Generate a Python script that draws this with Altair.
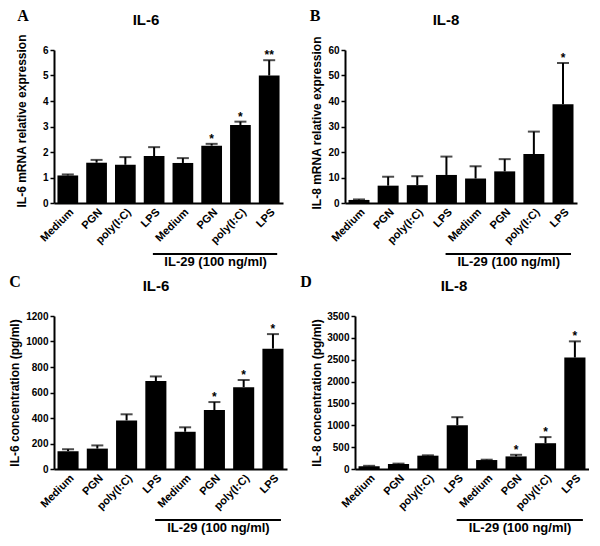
import altair as alt
import pandas as pd

categories = ["Medium", "PGN", "poly(I:C)", "LPS", "Medium", "PGN", "poly(I:C)", "LPS"]

# Panel A: IL-6 mRNA relative expression
a_mean = [1.08, 1.58, 1.50, 1.84, 1.57, 2.25, 3.06, 5.00]
a_err = [0.04, 0.11, 0.30, 0.35, 0.19, 0.07, 0.13, 0.60]
a_star = ["", "", "", "", "", "*", "*", "**"]

# Panel B: IL-8 mRNA relative expression
b_mean = [1.2, 6.8, 7.0, 11.0, 9.6, 12.4, 19.2, 38.7]
b_err = [0.2, 3.5, 3.5, 7.2, 4.8, 4.8, 8.8, 16.2]
b_star = ["", "", "", "", "", "", "", "*"]

# Panel C: IL-6 concentration (pg/ml)
c_mean = [140, 160, 381, 690, 292, 462, 642, 944]
c_err = [15, 25, 48, 36, 35, 63, 56, 114]
c_star = ["", "", "", "", "", "*", "*", "*"]

# Panel D: IL-8 concentration (pg/ml)
d_mean = [65, 115, 305, 1000, 205, 288, 590, 2550]
d_err = [8, 8, 8, 185, 8, 37, 140, 370]
d_star = ["", "", "", "", "", "*", "*", "*"]

SANS = "Liberation Sans, Arial, sans-serif"
SERIF = "Liberation Serif, Times New Roman, serif"
H = 153


def panel(means, errs, stars, ymax, ystep, ytitle, title, letter,
          width, title_x, title_dy, title_cx, letter_x):
    df = pd.DataFrame({
        "i": list(range(len(categories))),
        "m": means,
        "hi": [m + e for m, e in zip(means, errs)],
        "s": stars,
    })
    label_expr = "[" + ",".join("'%s'" % c for c in categories) + "][datum.value]"
    xscale = alt.Scale(paddingInner=0.28, paddingOuter=0.12)
    xaxis = alt.Axis(title=None, labelExpr=label_expr, labelAngle=315, ticks=False,
                     domainWidth=2, domainColor="black", labelFont=SANS, labelFontSize=11,
                     labelFontWeight="bold", labelColor="black", labelPadding=3)
    yscale = alt.Scale(domain=[0, ymax], nice=False, zero=True)
    yaxis = alt.Axis(values=list(range(0, ymax + 1, ystep)), format="d", title=ytitle, grid=False,
                     titleX=title_x, titleY=H / 2 + title_dy, titleAngle=270,
                     titleAlign="center", titleBaseline="middle",
                     titleFont=SANS, titleFontSize=12, titleFontWeight="bold", titleColor="black",
                     labelFont=SANS, labelFontSize=10, labelFontWeight="bold", labelColor="black",
                     labelPadding=2, tickSize=4, tickWidth=1.5, tickColor="black",
                     domainWidth=2, domainColor="black")
    X = alt.X("i:O", scale=xscale, axis=xaxis)
    base = alt.Chart(df)
    bars = base.mark_bar(color="black").encode(
        x=X, y=alt.Y("m:Q", scale=yscale, axis=yaxis))
    stem = base.mark_rule(color="black", strokeWidth=2).encode(
        x=X, y=alt.Y("m:Q", scale=yscale, axis=yaxis), y2="hi:Q")
    cap = base.mark_tick(color="black", thickness=2, size=12).encode(
        x=X, y=alt.Y("hi:Q", scale=yscale, axis=yaxis))
    star = base.mark_text(font=SANS, fontSize=12, fontWeight="bold", color="black",
                          baseline="alphabetic", dy=-1).encode(
        x=X, y=alt.Y("hi:Q", scale=yscale, axis=yaxis), text="s:N")
    one = alt.Chart(pd.DataFrame({"k": [0]}))
    line = one.mark_rule(color="black", strokeWidth=2, xOffset=-30, x2Offset=8).encode(
        x=alt.XDatum(4, type="ordinal"), x2=alt.X2Datum(7), y=alt.value(H + 51))
    grp = one.mark_text(text="IL-29 (100 ng/ml)", font=SANS, fontSize=13, fontWeight="bold",
                        color="black", baseline="top", align="center", dx=4).encode(
        x=alt.XDatum(5, type="ordinal"), y=alt.value(H + 53))
    ttl = one.mark_text(text=title, font=SANS, fontSize=15, fontWeight="bold", color="black",
                        baseline="middle", align="center").encode(
        x=alt.value(title_cx), y=alt.value(-30))
    let = one.mark_text(text=letter, font=SERIF, fontSize=16, fontWeight="bold", color="black",
                        baseline="alphabetic", align="center").encode(
        x=alt.value(letter_x), y=alt.value(-29))
    return alt.layer(bars, stem, cap, star, line, grp, ttl, let).properties(width=width, height=H)


pA = panel(a_mean, a_err, a_star, 6, 1, "IL-6 mRNA relative expression", "IL-6", "A",
           229, -33, -6, 92, -31)
pB = panel(b_mean, b_err, b_star, 60, 10, "IL-8 mRNA relative expression", "IL-8", "B",
           232, -29, -4, 101, -30)
pC = panel(c_mean, c_err, c_star, 1200, 200, "IL-6 concentration (pg/ml)", "IL-6", "C",
           233, -40, 0, 102, -39)
pD = panel(d_mean, d_err, d_star, 3500, 500, "IL-8 concentration (pg/ml)", "IL-8", "D",
           234, -39, 0, 99, -49)

row1 = alt.hconcat(pA, pB, spacing=62, bounds="flush")
row2 = alt.hconcat(pC, pD, spacing=68, bounds="flush")
chart = alt.vconcat(row1, row2, spacing=5, bounds="full").properties(
    padding={"left": 0, "top": 0, "right": 0, "bottom": 0}
).configure_view(stroke=None).configure_concat(spacing=5)

chart.save("out.html", embed_options={"renderer": "svg", "actions": False})
